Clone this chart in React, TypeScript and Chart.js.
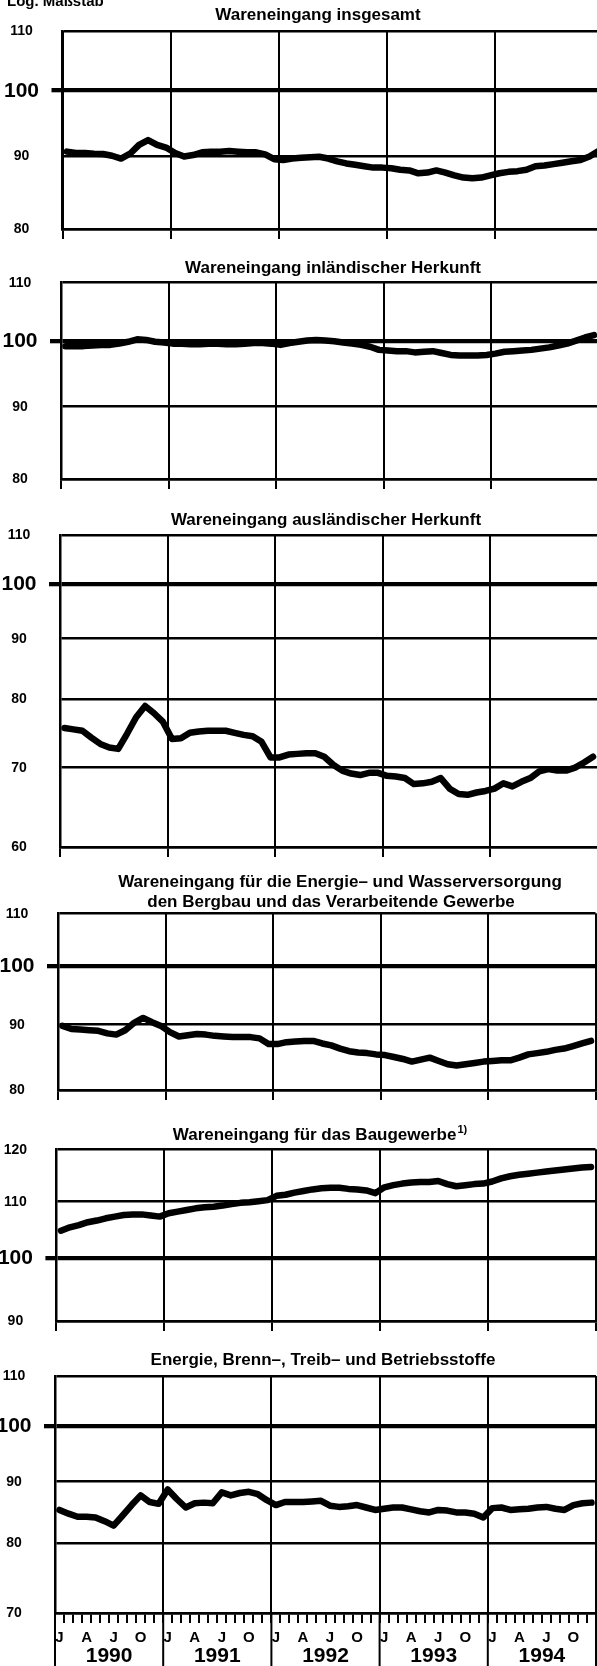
import React, { useEffect, useRef } from 'react';
import { Chart, registerables } from 'chart.js';

Chart.register(...registerables);

// ---------- DATA ----------
const YEARS = ['1990', '1991', '1992', '1993', '1994'];
const MONTH_INITIALS = ['J', '', '', 'A', '', '', 'J', '', '', 'O', '', ''];

const TITLE_TOTAL = ['Wareneingang insgesamt'];
const TITLE_DOMESTIC = ['Wareneingang inländischer Herkunft'];
const TITLE_FOREIGN = ['Wareneingang ausländischer Herkunft'];
const TITLE_ENERGY = ['Wareneingang für die Energie– und Wasserversorgung', 'den Bergbau und das Verarbeitende Gewerbe'];
const TITLE_CONSTRUCTION = ['Wareneingang für das Baugewerbe'];
const TITLE_CONSTRUCTION_NOTE = '1)';
const TITLE_FUELS = ['Energie, Brenn–, Treib– und Betriebsstoffe'];
const SCALE_NOTE = 'Log. Maßstab';

const TICKS_TOTAL = [80, 90, 100, 110];
const TICKS_DOMESTIC = [80, 90, 100, 110];
const TICKS_FOREIGN = [60, 70, 80, 90, 100, 110];
const TICKS_ENERGY = [80, 90, 100, 110];
const TICKS_CONSTRUCTION = [90, 100, 110, 120];
const TICKS_FUELS = [70, 80, 90, 100, 110];

// monthly values Jan 1990 .. Dec 1994
const TOTAL = [
  90.6, 90.4, 90.4, 90.3, 90.25, 90.0, 89.6, 90.3, 91.6, 92.3, 91.6, 91.2,
  90.4, 89.9, 90.1, 90.5, 90.6, 90.6, 90.7, 90.6, 90.5, 90.5, 90.2, 89.5,
  89.4, 89.6, 89.7, 89.8, 89.85, 89.6, 89.2, 88.9, 88.7, 88.5, 88.3, 88.3,
  88.2, 88.0, 87.9, 87.5, 87.6, 87.9, 87.6, 87.2, 86.9, 86.8, 86.9, 87.2,
  87.5, 87.7, 87.8, 88.0, 88.5, 88.6, 88.8, 89.0, 89.2, 89.4, 89.9, 90.7,
];
const DOMESTIC = [
  99.2, 99.2, 99.2, 99.3, 99.4, 99.4, 99.6, 99.9, 100.3, 100.2, 99.9, 99.8,
  99.6, 99.6, 99.5, 99.5, 99.6, 99.6, 99.5, 99.5, 99.6, 99.7, 99.7, 99.6,
  99.4, 99.7, 99.9, 100.1, 100.2, 100.1, 100.0, 99.8, 99.6, 99.4, 99.1, 98.6,
  98.5, 98.4, 98.4, 98.2, 98.3, 98.4, 98.1, 97.8, 97.7, 97.7, 97.7, 97.8,
  98.0, 98.3, 98.4, 98.5, 98.6, 98.8, 99.0, 99.3, 99.6, 100.1, 100.6, 101.0,
];
const FOREIGN = [
  75.6, 75.4, 75.2, 74.2, 73.3, 72.8, 72.6, 74.8, 77.2, 78.9, 77.8, 76.5,
  74.0, 74.1, 74.9, 75.1, 75.2, 75.2, 75.2, 74.9, 74.6, 74.4, 73.6, 71.4,
  71.4, 71.8, 71.9, 72.0, 72.0, 71.5, 70.4, 69.6, 69.2, 69.0, 69.3, 69.3,
  68.9, 68.8, 68.6, 67.8, 67.9, 68.1, 68.6, 67.2, 66.5, 66.4, 66.7, 66.9,
  67.2, 67.9, 67.5, 68.1, 68.6, 69.5, 69.8, 69.6, 69.6, 70.0, 70.7, 71.5,
];
const ENERGY = [
  89.8, 89.3, 89.2, 89.1, 89.0, 88.6, 88.4, 89.1, 90.3, 91.1, 90.4, 89.8,
  88.8, 88.1, 88.3, 88.5, 88.4, 88.2, 88.1, 88.0, 88.0, 88.0, 87.8, 86.9,
  86.9, 87.2, 87.3, 87.4, 87.4, 87.0, 86.7, 86.2, 85.8, 85.6, 85.5, 85.3,
  85.2, 84.9, 84.6, 84.2, 84.5, 84.8, 84.3, 83.8, 83.6, 83.8, 84.0, 84.2,
  84.3, 84.4, 84.4, 84.8, 85.3, 85.5, 85.7, 86.0, 86.2, 86.6, 87.0, 87.4,
];
const CONSTRUCTION = [
  104.7, 105.3, 105.7, 106.2, 106.5, 106.9, 107.2, 107.5, 107.6, 107.6, 107.4, 107.2,
  107.8, 108.1, 108.4, 108.7, 108.9, 109.0, 109.2, 109.5, 109.7, 109.8, 110.0, 110.2,
  111.0, 111.2, 111.6, 111.9, 112.2, 112.4, 112.5, 112.5, 112.3, 112.2, 112.0, 111.5,
  112.6, 113.0, 113.3, 113.5, 113.6, 113.6, 113.8, 113.2, 112.8, 113.0, 113.2, 113.3,
  113.7, 114.3, 114.7, 115.0, 115.2, 115.4, 115.6, 115.8, 116.0, 116.2, 116.4, 116.5,
];
const FUELS = [
  85.2, 84.6, 84.1, 84.1, 84.0, 83.4, 82.7, 84.3, 86.0, 87.6, 86.5, 86.2,
  88.6, 87.0, 85.6, 86.3, 86.4, 86.3, 88.1, 87.6, 88.0, 88.2, 87.8, 86.8,
  86.0, 86.5, 86.5, 86.5, 86.6, 86.7, 85.9, 85.7, 85.8, 86.0, 85.6, 85.2,
  85.4, 85.6, 85.6, 85.3, 85.0, 84.8, 85.2, 85.1, 84.8, 84.8, 84.6, 84.0,
  85.5, 85.6, 85.2, 85.3, 85.4, 85.6, 85.7, 85.4, 85.2, 86.0, 86.3, 86.4,
];

// ---------- LAYOUT / STYLE ----------
const FONT = "'Liberation Sans', Arial, Helvetica, sans-serif";
const CANVAS_W = 612;
const Y_AXIS_W = 20;
const Y_LABEL_OFFSET = 41;
const MONTHS_TOTAL = YEARS.length * 12;

type Panel = {
  title: string[];
  note?: string;
  titleX: number[];
  titleY: number[];
  values: number[];
  ticks: number[];
  canvasTop: number;
  plotLeft: number;
  plotTop: number;
  plotBottom: number;
  plotRight: number;
  bottomAxis?: boolean;
  scaleNote?: boolean;
};

const PANELS: Panel[] = [
  { title: TITLE_TOTAL, titleX: [318], titleY: [15], values: TOTAL, ticks: TICKS_TOTAL,
    canvasTop: -10, plotLeft: 62.5, plotTop: 31, plotBottom: 229, plotRight: 603, scaleNote: true },
  { title: TITLE_DOMESTIC, titleX: [333], titleY: [268], values: DOMESTIC, ticks: TICKS_DOMESTIC,
    canvasTop: 250, plotLeft: 61, plotTop: 282.3, plotBottom: 479.3, plotRight: 598.5 },
  { title: TITLE_FOREIGN, titleX: [326], titleY: [520], values: FOREIGN, ticks: TICKS_FOREIGN,
    canvasTop: 500, plotLeft: 60, plotTop: 535, plotBottom: 846.7, plotRight: 597.5 },
  { title: TITLE_ENERGY, titleX: [340, 331], titleY: [882.7, 902.3], values: ENERGY, ticks: TICKS_ENERGY,
    canvasTop: 866, plotLeft: 58, plotTop: 913.3, plotBottom: 1090, plotRight: 595.5 },
  { title: TITLE_CONSTRUCTION, note: TITLE_CONSTRUCTION_NOTE, titleX: [320], titleY: [1135], values: CONSTRUCTION,
    ticks: TICKS_CONSTRUCTION, canvasTop: 1118, plotLeft: 56.4, plotTop: 1149.3, plotBottom: 1320.7, plotRight: 595.5 },
  { title: TITLE_FUELS, titleX: [323], titleY: [1360], values: FUELS, ticks: TICKS_FUELS,
    canvasTop: 1344, plotLeft: 55, plotTop: 1376, plotBottom: 1613, plotRight: 596, bottomAxis: true },
];

const TRANSPARENT = 'rgba(0,0,0,0)';

function textPlugin(p: Panel) {
  return {
    id: 'panelText',
    afterDraw(chart: any) {
      const ctx = chart.ctx as CanvasRenderingContext2D;
      ctx.save();
      ctx.fillStyle = '#000';
      ctx.textBaseline = 'middle';
      // titles
      const titleFont = `bold 17px ${FONT}`;
      p.title.forEach((line, i) => {
        const y = p.titleY[i] - p.canvasTop;
        const cx = p.titleX[i];
        if (p.note && i === p.title.length - 1) {
          ctx.font = titleFont;
          const w = ctx.measureText(line).width;
          ctx.font = `bold 11px ${FONT}`;
          const wn = ctx.measureText(p.note).width;
          const x0 = cx - (w + wn + 1) / 2;
          ctx.textAlign = 'left';
          ctx.font = titleFont;
          ctx.fillText(line, x0, y);
          ctx.font = `bold 11px ${FONT}`;
          ctx.fillText(p.note, x0 + w + 1, y - 5);
        } else {
          ctx.font = titleFont;
          ctx.textAlign = 'center';
          ctx.fillText(line, cx, y);
        }
      });
      // y tick labels, positioned through the y scale
      const ys = chart.scales.y;
      const lx = chart.chartArea.left - Y_LABEL_OFFSET;
      ctx.textAlign = 'center';
      for (const v of p.ticks) {
        ctx.font = v === 100 ? `bold 21px ${FONT}` : `bold 14px ${FONT}`;
        ctx.fillText(String(v), lx, ys.getPixelForValue(v) + 0.5);
      }
      if (p.scaleNote) {
        ctx.font = `bold 15px ${FONT}`;
        ctx.textAlign = 'left';
        ctx.textBaseline = 'alphabetic';
        ctx.fillText(SCALE_NOTE, 7, 5.5 - p.canvasTop);
      }
      ctx.restore();
    },
  };
}

const yearDividerPlugin = {
  id: 'yearDividers',
  afterDraw(chart: any) {
    const sx = chart.scales.x;
    const ctx = chart.ctx as CanvasRenderingContext2D;
    ctx.save();
    ctx.strokeStyle = '#000';
    ctx.lineWidth = 2;
    for (let i = 0; i <= YEARS.length; i++) {
      const x = sx.getPixelForValue(i * 12);
      ctx.beginPath();
      ctx.moveTo(x, chart.chartArea.bottom);
      ctx.lineTo(x, chart.height);
      ctx.stroke();
    }
    ctx.restore();
  },
};

function buildConfig(p: Panel): any {
  const data = p.values.map((v, i) => ({ x: i + 0.5, y: v }));
  const yearTicks = Array.from({ length: YEARS.length + 1 }, (_, i) => ({ value: i * 12 }));
  const monthTicks = Array.from({ length: MONTHS_TOTAL + 1 }, (_, i) => ({ value: i }));

  const xScale: any = p.bottomAxis
    ? {
        type: 'linear', min: 0, max: MONTHS_TOTAL, position: 'bottom', weight: 0,
        afterBuildTicks: (s: any) => { s.ticks = monthTicks.map((t) => ({ ...t })); },
        afterFit: (s: any) => { s.height = 33; },
        border: { display: true, color: '#000', width: 2.5 },
        grid: {
          color: (c: any) => (c.tick && c.tick.value % 12 === 0 ? '#000' : TRANSPARENT),
          lineWidth: 2, tickLength: 10, tickWidth: 2, tickColor: '#000',
        },
        ticks: {
          autoSkip: false, maxRotation: 0, minRotation: 0, padding: 6, labelOffset: 4.5, color: '#000',
          font: { family: FONT, size: 15, weight: 'bold' },
          callback: (v: number) => (v < MONTHS_TOTAL ? MONTH_INITIALS[v % 12] : ''),
        },
      }
    : {
        type: 'linear', min: 0, max: MONTHS_TOTAL, position: 'bottom',
        afterBuildTicks: (s: any) => { s.ticks = yearTicks.map((t) => ({ ...t })); },
        afterFit: (s: any) => { s.height = 12; },
        border: { display: true, color: '#000', width: 2.5 },
        grid: { color: '#000', lineWidth: 2, tickLength: 10, tickWidth: 2, tickColor: '#000' },
        ticks: { display: false },
      };

  const scales: any = {
    x: xScale,
    y: {
      type: 'logarithmic', position: 'left',
      min: p.ticks[0], max: p.ticks[p.ticks.length - 1],
      afterBuildTicks: (s: any) => { s.ticks = p.ticks.map((v) => ({ value: v })); },
      afterFit: (s: any) => { s.width = Y_AXIS_W; },
      border: { display: true, color: '#000', width: 2.5 },
      grid: {
        color: '#000',
        lineWidth: (c: any) => (c.tick && c.tick.value === 100 ? 4.3 : 2.5),
        tickColor: (c: any) => (c.tick && c.tick.value === 100 ? '#000' : TRANSPARENT),
        tickWidth: 4.3,
        tickLength: 11,
      },
      ticks: { display: false },
    },
  };

  if (p.bottomAxis) {
    scales.xYear = {
      type: 'linear', min: 0, max: MONTHS_TOTAL, position: 'bottom', weight: 1,
      afterBuildTicks: (s: any) => { s.ticks = YEARS.map((_, i) => ({ value: i * 12 + 6 })); },
      afterFit: (s: any) => { s.height = 22; },
      grid: { display: false, drawTicks: false },
      border: { display: false },
      ticks: {
        autoSkip: false, maxRotation: 0, minRotation: 0, padding: 0, color: '#000',
        font: { family: FONT, size: 21, weight: 'bold', lineHeight: 1 },
        callback: (v: number) => YEARS[Math.round((v - 6) / 12)] ?? '',
      },
    };
  }

  return {
    type: 'line',
    data: {
      datasets: [{
        data,
        borderColor: '#000',
        borderWidth: 6.5,
        pointRadius: 0,
        tension: 0,
        borderJoinStyle: 'round',
        borderCapStyle: 'round',
        fill: false,
      }],
    },
    options: {
      responsive: false,
      animation: false,
      devicePixelRatio: 1,
      events: [],
      layout: {
        padding: {
          left: p.plotLeft - Y_AXIS_W,
          right: CANVAS_W - p.plotRight,
          top: p.plotTop - p.canvasTop,
          bottom: 0,
        },
      },
      plugins: { legend: { display: false }, tooltip: { enabled: false }, title: { display: false } },
      scales,
    },
    plugins: p.bottomAxis ? [textPlugin(p), yearDividerPlugin] : [textPlugin(p)],
  };
}

function PanelChart({ p }: { p: Panel }) {
  const ref = useRef<HTMLCanvasElement | null>(null);
  const height = Math.round(p.plotBottom - p.canvasTop + (p.bottomAxis ? 55 : 12));
  useEffect(() => {
    if (!ref.current) return;
    const chart = new Chart(ref.current, buildConfig(p));
    return () => chart.destroy();
  }, [p]);
  return (
    <canvas
      ref={ref}
      width={CANVAS_W}
      height={height}
      style={{ position: 'absolute', left: 0, top: p.canvasTop, width: CANVAS_W, height }}
    />
  );
}

export default function App() {
  return (
    <div
      style={{
        position: 'absolute', left: 0, top: 0, width: 597, height: 1666,
        overflow: 'hidden', background: '#fff',
      }}
    >
      {PANELS.map((p, i) => (
        <PanelChart key={i} p={p} />
      ))}
    </div>
  );
}
